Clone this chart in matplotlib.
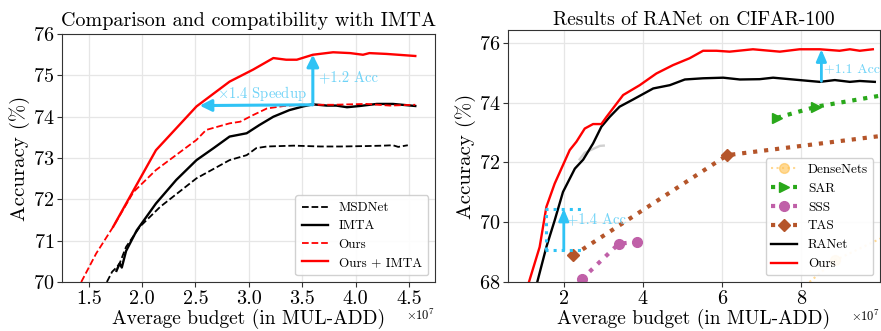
import matplotlib
matplotlib.use("Agg")
import matplotlib.pyplot as plt
import numpy as np

plt.rcParams['font.family'] = 'serif'
plt.rcParams['font.serif'] = ['cmr10', 'DejaVu Serif']
plt.rcParams['mathtext.fontset'] = 'cm'
plt.rcParams['axes.formatter.use_mathtext'] = True
plt.rcParams['axes.unicode_minus'] = False

# ---------------- Left panel data (x in 1e7 MUL-ADD) ----------------
msd_x = [1.67, 1.72, 1.76, 1.79, 1.85, 1.98, 2.17, 2.51, 2.82, 2.98, 3.07, 3.17, 3.42, 3.67, 3.86, 4.10, 4.26, 4.35, 4.40, 4.49]
msd_y = [70.0, 70.25, 70.35, 70.45, 70.85, 71.34, 71.82, 72.51, 72.95, 73.07, 73.24, 73.28, 73.30, 73.28, 73.28, 73.29, 73.30, 73.31, 73.27, 73.31]

imta_x = [1.76, 1.79, 1.81, 1.85, 1.95, 2.13, 2.32, 2.51, 2.67, 2.82, 2.98, 3.10, 3.23, 3.38, 3.51, 3.60, 3.73, 3.82, 3.92, 4.04, 4.20, 4.35, 4.56]
imta_y = [70.27, 70.45, 70.35, 70.75, 71.25, 71.90, 72.47, 72.95, 73.24, 73.52, 73.60, 73.80, 74.00, 74.16, 74.25, 74.30, 74.27, 74.27, 74.23, 74.26, 74.31, 74.31, 74.26]

ours_x = [1.43, 1.57, 1.73, 1.92, 2.13, 2.51, 2.60, 2.82, 2.92, 3.04, 3.17, 3.33, 3.48, 3.79, 4.10, 4.32, 4.56]
ours_y = [70.0, 70.69, 71.34, 72.18, 72.71, 73.44, 73.68, 73.84, 73.88, 74.04, 74.20, 74.26, 74.29, 74.29, 74.31, 74.27, 74.29]

oi_x = [1.73, 1.92, 2.13, 2.51, 2.82, 3.04, 3.23, 3.35, 3.45, 3.60, 3.79, 3.95, 4.07, 4.13, 4.29, 4.56]
oi_y = [71.34, 72.22, 73.19, 74.25, 74.85, 75.14, 75.42, 75.38, 75.38, 75.50, 75.56, 75.54, 75.50, 75.54, 75.52, 75.47]

# ---------------- Right panel data ----------------
ranet_x = [1.33, 1.56, 1.77, 1.98, 2.28, 2.49, 2.74, 2.95, 3.16, 3.41, 3.75, 4.26, 4.68, 5.06, 5.52, 6.03, 6.45, 6.95, 7.29, 7.71, 8.13, 8.47, 8.85, 9.23, 9.48, 9.86]
ranet_y = [68.0, 69.17, 70.06, 71.01, 71.79, 72.09, 72.63, 73.19, 73.52, 73.86, 74.10, 74.47, 74.58, 74.77, 74.81, 74.83, 74.77, 74.78, 74.83, 74.78, 74.73, 74.69, 74.75, 74.69, 74.72, 74.69]

rours_x = [1.12, 1.39, 1.56, 1.77, 2.15, 2.32, 2.53, 2.74, 2.95, 3.08, 3.50, 3.92, 4.34, 4.76, 5.18, 5.52, 5.86, 6.19, 6.78, 7.46, 7.96, 8.47, 8.97, 9.23, 9.48, 9.81]
rours_y = [68.0, 69.17, 70.51, 71.29, 72.41, 72.69, 73.13, 73.28, 73.28, 73.52, 74.25, 74.58, 74.97, 75.25, 75.48, 75.73, 75.73, 75.70, 75.78, 75.70, 75.78, 75.78, 75.73, 75.78, 75.73, 75.78]

grey_x = [2.40, 2.53, 2.91, 3.01]
grey_y = [72.10, 72.32, 72.55, 72.56]

dense_x = [8.21, 8.85, 10.0]
dense_y = [68.0, 68.72, 69.45]

sar_x = [7.39, 8.38, 10.0]
sar_y = [73.49, 73.86, 74.23]

sss_x = [2.45, 3.39, 3.86]
sss_y = [68.09, 69.28, 69.34]

tas_x = [2.24, 6.13, 10.0]
tas_y = [68.89, 72.24, 72.88]

ACC = '#2fc3f5'
ACC_TXT = '#6fd3f7'

fig = plt.figure(figsize=(8.81, 3.31), dpi=100)
ax1 = fig.add_axes([0.0704, 0.148, 0.4234, 0.749])
ax2 = fig.add_axes([0.5766, 0.148, 0.4222, 0.761])

for ax in (ax1, ax2):
    ax.grid(True, color='#e6e6e6', linewidth=0.9)
    ax.set_axisbelow(True)
    for s in ax.spines.values():
        s.set_color('#333333')
    ax.tick_params(labelsize=14.5, color='#333333', pad=2)

# Left
ax1.plot(msd_x, msd_y, 'k--', lw=1.3, label='MSDNet')
ax1.plot(imta_x, imta_y, 'k-', lw=1.7, label='IMTA')
ax1.plot(ours_x, ours_y, '--', color='red', lw=1.3, label='Ours')
ax1.plot(oi_x, oi_y, '-', color='red', lw=1.7, label='Ours + IMTA')
ax1.annotate('', xy=(2.54, 74.27), xytext=(3.6, 74.29),
             arrowprops=dict(arrowstyle='-|>,head_width=0.35,head_length=0.7', color=ACC, lw=2.2, shrinkA=0, shrinkB=0))
ax1.annotate('', xy=(3.6, 75.5), xytext=(3.6, 74.29),
             arrowprops=dict(arrowstyle='-|>,head_width=0.35,head_length=0.7', color=ACC, lw=2.2, shrinkA=0, shrinkB=0))
ax1.text(3.66, 74.85, '+1.2 Acc', color=ACC_TXT, fontsize=10.5)
ax1.text(2.7, 74.45, r'$\times$1.4 Speedup', color=ACC_TXT, fontsize=10.5)
ax1.set_xlim(1.25, 4.745)
ax1.set_ylim(70, 76)
ax1.set_xticks([1.5, 2.0, 2.5, 3.0, 3.5, 4.0, 4.5])
ax1.set_xticklabels(['1.5', '2.0', '2.5', '3.0', '3.5', '4.0', '4.5'])
ax1.set_yticks([70, 71, 72, 73, 74, 75, 76])
ax1.set_xlabel('Average budget (in MUL-ADD)', fontsize=14, labelpad=1)
ax1.set_ylabel('Accuracy (%)', fontsize=15, labelpad=2)
ax1.set_title('Comparison and compatibility with IMTA', fontsize=14.5, pad=6)
ax1.text(1.0, -0.105, r'$\times10^7$', transform=ax1.transAxes, ha='right', va='top', fontsize=9)
ax1.legend(loc='lower right', fontsize=9.5, handlelength=2.0, framealpha=0.9, borderpad=0.5, labelspacing=0.45)

# Right
ax2.plot(dense_x, dense_y, ':', color='#ffc04d', alpha=0.6, lw=1.5, marker='o', markersize=7, markevery=[1], label='DenseNets')
ax2.plot(sar_x, sar_y, ':', color='#29a81a', lw=3, marker='>', markersize=7, markevery=[0, 1], label='SAR')
ax2.plot(sss_x, sss_y, ':', color='#c060a8', lw=3, marker='o', markersize=7, label='SSS')
ax2.plot(tas_x, tas_y, ':', color='#b5552a', lw=3, marker='D', markersize=6, markevery=[0, 1], label='TAS')
ax2.plot(grey_x, grey_y, '-', color='#d0d0d0', lw=1.7)
ax2.plot(ranet_x, ranet_y, 'k-', lw=1.7, label='RANet')
ax2.plot(rours_x, rours_y, '-', color='red', lw=1.7, label='Ours')

# +1.4 Acc dotted box
ax2.plot([1.52, 2.49], [70.45, 70.45], ':', color=ACC, lw=2.2)
ax2.plot([1.52, 2.49], [69.06, 69.06], ':', color=ACC, lw=2.2)
ax2.plot([1.56, 1.56], [69.06, 70.45], ':', color=ACC, lw=2.2)
ax2.annotate('', xy=(2.0, 70.45), xytext=(2.0, 69.06),
             arrowprops=dict(arrowstyle='-|>,head_width=0.3,head_length=0.7', color=ACC, lw=2.0, shrinkA=0, shrinkB=0))
ax2.text(2.08, 69.98, '+1.4 Acc', color=ACC_TXT, fontsize=10.5)
ax2.annotate('', xy=(8.51, 75.78), xytext=(8.51, 74.71),
             arrowprops=dict(arrowstyle='-|>,head_width=0.3,head_length=0.7', color=ACC, lw=2.0, shrinkA=0, shrinkB=0))
ax2.text(8.58, 75.0, '+1.1 Acc', color=ACC_TXT, fontsize=10)

ax2.set_xlim(0.59, 9.99)
ax2.set_ylim(68, 76.42)
ax2.set_xticks([2, 4, 6, 8])
ax2.set_xticklabels(['2', '4', '6', '8'])
ax2.set_yticks([68, 70, 72, 74, 76])
ax2.set_xlabel('Average budget (in MUL-ADD)', fontsize=14, labelpad=1)
ax2.set_ylabel('Accuracy (%)', fontsize=15, labelpad=2)
ax2.set_title('Results of RANet on CIFAR-100', fontsize=14, pad=4)
ax2.text(1.0, -0.105, r'$\times10^7$', transform=ax2.transAxes, ha='right', va='top', fontsize=9)
ax2.legend(loc='lower right', fontsize=9.5, handlelength=2.0, framealpha=0.9, borderpad=0.4, labelspacing=0.5)

fig.savefig('out.png', dpi=100)
